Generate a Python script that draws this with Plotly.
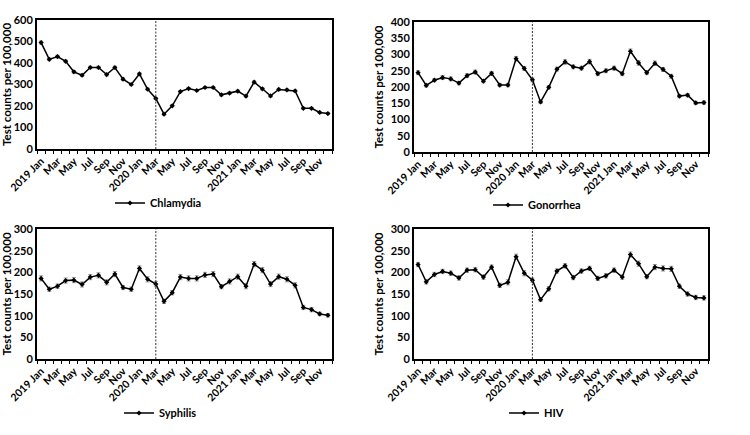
import plotly.graph_objects as go

months = ["Jan", "Feb", "Mar", "Apr", "May", "Jun", "Jul", "Aug", "Sep", "Oct", "Nov", "Dec"]
years = ["2019", "2020", "2021"]
categories = [f"{y} {m}" for y in years for m in months]
tick_labels = ["2019 Jan", "Mar", "May", "Jul", "Sep", "Nov",
               "2020 Jan", "Mar", "May", "Jul", "Sep", "Nov",
               "2021 Jan", "Mar", "May", "Jul", "Sep", "Nov"]
cutoff_month = "2020 Mar"

chlamydia = [495, 417, 430, 408, 359, 343, 379, 379, 346, 379, 325, 300,
             349, 278, 235, 162, 201, 267, 281, 272, 286, 286, 252, 260,
             269, 246, 311, 280, 247, 277, 275, 270, 189, 189, 170, 165]
chlamydia_err = [7, 6, 6, 6, 6, 6, 6, 6, 6, 6, 6, 5,
                 6, 5, 5, 4, 5, 5, 5, 5, 5, 5, 5, 5,
                 5, 5, 6, 5, 5, 5, 5, 5, 4, 4, 4, 4]
gonorrhea = [244, 205, 221, 229, 225, 212, 235, 246, 218, 242, 206, 206,
             287, 257, 222, 154, 199, 255, 277, 262, 258, 278, 241, 250,
             258, 241, 310, 274, 244, 273, 254, 233, 172, 175, 151, 152]
gonorrhea_err = [6, 5, 5, 6, 6, 5, 6, 6, 5, 6, 5, 5,
                 7, 6, 6, 5, 5, 6, 7, 6, 6, 7, 6, 6,
                 6, 6, 7, 7, 6, 7, 6, 6, 5, 5, 5, 5]
syphilis = [186, 161, 168, 181, 182, 172, 189, 193, 177, 196, 165, 161,
            209, 184, 173, 133, 153, 189, 186, 186, 194, 196, 167, 179,
            190, 168, 219, 205, 173, 190, 184, 170, 119, 114, 104, 101]
syphilis_err = [6, 5, 5, 6, 6, 6, 6, 6, 6, 6, 5, 5,
                6, 6, 6, 5, 5, 6, 6, 6, 6, 6, 5, 6,
                6, 6, 6, 6, 6, 6, 6, 6, 5, 5, 4, 4]
hiv = [218, 178, 195, 202, 198, 187, 205, 206, 189, 212, 170, 177,
       236, 198, 182, 137, 162, 203, 215, 188, 203, 209, 186, 192,
       205, 189, 241, 220, 190, 212, 209, 208, 168, 150, 142, 141]
hiv_err = [5, 5, 5, 5, 5, 5, 5, 5, 5, 5, 5, 6,
           6, 6, 5, 4, 5, 5, 5, 5, 5, 5, 5, 5,
           5, 5, 6, 6, 5, 6, 6, 6, 5, 5, 5, 5]

panels = [
    ("Chlamydia", chlamydia, chlamydia_err, 600, 100),
    ("Gonorrhea", gonorrhea, gonorrhea_err, 400, 50),
    ("Syphilis", syphilis, syphilis_err, 300, 50),
    ("HIV", hiv, hiv_err, 300, 50),
]

W, H = 750, 435
# plot-area boxes in pixels: (left, right, top, bottom)
boxes = [(37, 332, 20, 149), (414, 708, 22, 152), (37, 332, 229, 359), (414, 708, 229, 359)]
# legend text start x, legend centre y (pixels)
legend_pos = [(150, 203), (528, 205), (159, 413), (544, 413)]

FONT = "Lato"
xidx = list(range(len(categories)))
tickvals = [i for i in xidx if i % 2 == 0]
cut = categories.index(cutoff_month)

fig = go.Figure()
for k, (name, vals, err, ymax, dy) in enumerate(panels):
    n = "" if k == 0 else str(k + 1)
    leg = "legend" if k == 0 else f"legend{k + 1}"
    fig.add_trace(go.Scatter(
        x=xidx, y=vals, name=name, mode="lines+markers",
        line=dict(color="black", width=1.5),
        marker=dict(symbol="diamond", size=4, color="black"),
        error_y=dict(type="data", array=err, color="#9a9a9a", thickness=1, width=2),
        xaxis="x" + n, yaxis="y" + n, legend=leg, showlegend=True,
        customdata=categories,
    ))
    l, r, t, b = boxes[k]
    fig.update_layout(**{
        "xaxis" + n: dict(
            domain=[l / W, r / W], anchor="y" + n, range=[-0.5, len(xidx) - 0.5],
            tickmode="array", tickvals=tickvals, ticktext=tick_labels,
            tickangle=-45, ticks="", showgrid=False, zeroline=False, automargin=False,
            showline=True, linecolor="black", linewidth=2, mirror=True,
            tickfont=dict(family=FONT, size=10.5, color="black", weight="bold"),
            minor=dict(tickmode="linear", tick0=0.5, dtick=1, ticks="outside",
                       ticklen=3, tickcolor="black", tickwidth=1, showgrid=False),
        ),
        "yaxis" + n: dict(
            domain=[1 - b / H, 1 - t / H], anchor="x" + n, range=[0, ymax],
            dtick=dy, showgrid=False, zeroline=False, automargin=False,
            showline=True, linecolor="black", linewidth=2, mirror=True, ticks="",
            tickfont=dict(family=FONT, size=11, color="black", weight="bold"),
            title=dict(text="Test counts per 100,000", standoff=5,
                       font=dict(family=FONT, size=11.5, color="black", weight="bold")),
        ),
        leg: dict(
            x=(legend_pos[k][0] - 40) / W, y=1 - legend_pos[k][1] / H,
            xanchor="left", yanchor="middle", bgcolor="rgba(0,0,0,0)",
            font=dict(family=FONT, size=11, color="black", weight="bold"),
            itemwidth=30,
        ),
    })
    fig.add_shape(type="line", xref="x" + n, yref="y" + n + " domain",
                  x0=cut, x1=cut, y0=0, y1=1,
                  line=dict(color="#333333", width=1, dash="2px,1.5px"))

fig.update_layout(width=W, height=H, margin=dict(l=0, r=0, t=0, b=0),
                  paper_bgcolor="white", plot_bgcolor="white")
fig.write_html("out.html")
